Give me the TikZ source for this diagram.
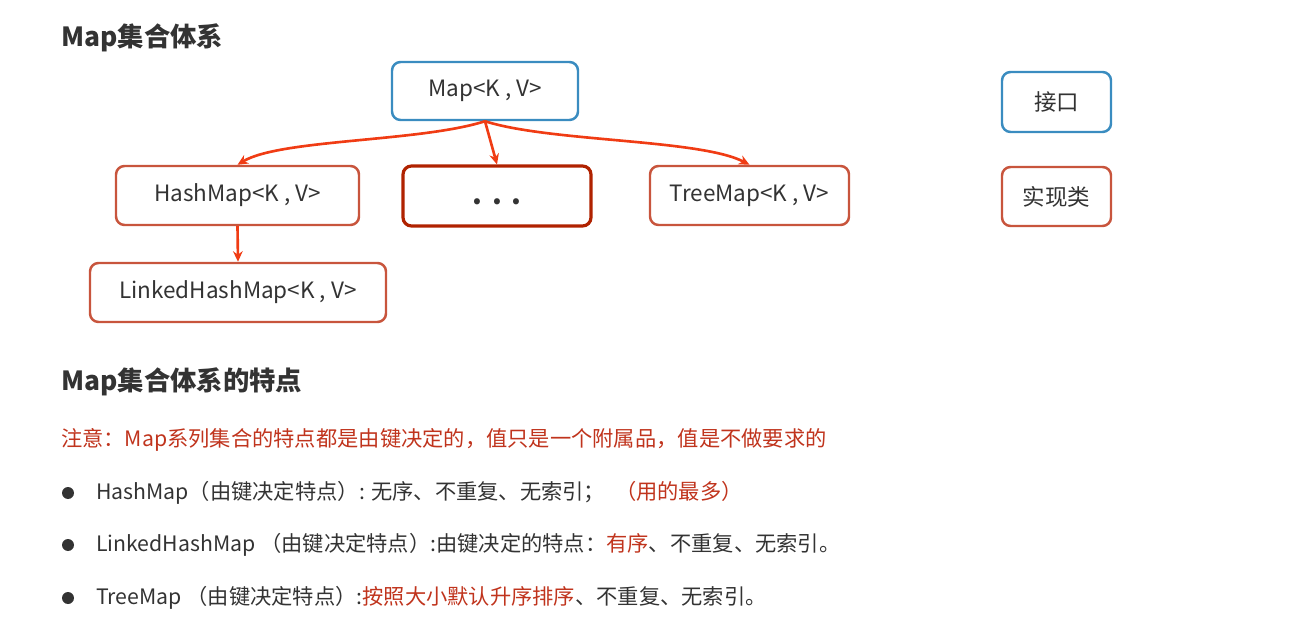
\documentclass[tikz,border=0pt]{standalone}
\usepackage{fontspec}
\setmainfont{Noto Sans CJK SC}
\usepackage{tikz}
\usepackage{xcolor}
\usetikzlibrary{arrows.meta,positioning}

\definecolor{ifblue}{HTML}{3A8CC0}
\definecolor{clsred}{HTML}{C8553D}
\definecolor{dotred}{HTML}{B02200}
\definecolor{arrred}{HTML}{F03C14}
\definecolor{notered}{HTML}{C0341D}
\definecolor{txtgray}{HTML}{333333}

\begin{document}
\begin{tikzpicture}[
    font=\fontsize{12.8}{15}\selectfont, text=txtgray,
    ifbox/.style={draw=ifblue, line width=1.4pt, rounded corners=0.17cm, fill=white},
    clsbox/.style={draw=clsred, line width=1.4pt, rounded corners=0.17cm, fill=white},
    link/.style={draw=arrred, line width=1.5pt, -{Stealth[length=6pt,width=5.5pt]}},
    heading/.style={anchor=west, font=\fontsize{15}{18}\selectfont\bfseries},
    line/.style={anchor=west, font=\fontsize{12.1}{15}\selectfont}
]
    \useasboundingbox (0,0) rectangle (26.26,-12.62);

    % Headings
    \node[heading] (title) at (1.10,-0.76) {Map集合体系};
    \node[heading] (feat) at (1.10,-7.64) {Map集合体系的特点};

    % Hierarchy
    \node[ifbox, minimum width=3.72cm, minimum height=1.16cm] (map) at (9.70,-1.82) {Map<K , V>};
    \node[clsbox, draw=dotred, line width=1.8pt, minimum width=3.76cm, minimum height=1.20cm,
          text height=0.4cm, text depth=0.05cm] (more) at (9.94,-3.92) {\fontsize{16}{16}\selectfont\textbf{.\hspace{0.2cm}.\hspace{0.2cm}.}};
    \node[clsbox, minimum width=4.86cm, minimum height=1.18cm] (hash) at (4.75,-3.91) {HashMap<K , V>};
    \node[clsbox, minimum width=3.98cm, minimum height=1.18cm] (tree) at (14.99,-3.91) {TreeMap<K , V>};
    \node[clsbox, minimum width=5.92cm, minimum height=1.18cm] (linked) at (4.76,-5.85) {LinkedHashMap<K , V>};

    % Legend
    \node[ifbox, minimum width=2.18cm, minimum height=1.20cm] (iface) at (21.13,-2.04) {接口};
    \node[clsbox, minimum width=2.18cm, minimum height=1.18cm] (impl) at (21.13,-3.93) {实现类};

    % Arrows
    \draw[link] (map.south) .. controls (8.4,-2.84) and (5.6,-2.78) .. (hash.north);
    \draw[link] (map.south) -- (more.north);
    \draw[link] (map.south) .. controls (11.0,-2.84) and (14.0,-2.78) .. (tree.north);
    \draw[link] (hash.south) -- (linked.north);

    % Notes
    \node[line, text=notered] (note) at (1.10,-8.80) {注意：Map系列集合的特点都是由键决定的，值只是一个附属品，值是不做要求的};
    \foreach \i/\y in {1/-9.86, 2/-10.90, 3/-11.96}
        \fill[txtgray] (1.36,\y) circle (0.12) coordinate (b\i);
    \node[line] (l1) at (1.80,-9.86) {HashMap（由键决定特点）: 无序、不重复、无索引；\hspace{0.2cm}\textcolor{notered}{（用的最多）}};
    \node[line] (l2) at (1.80,-10.90) {LinkedHashMap （由键决定特点）:由键决定的特点：\textcolor{notered}{有序}、不重复、无索引。};
    \node[line] (l3) at (1.80,-11.96) {TreeMap （由键决定特点）:\textcolor{notered}{按照大小默认升序排序}、不重复、无索引。};
\end{tikzpicture}
\end{document}
